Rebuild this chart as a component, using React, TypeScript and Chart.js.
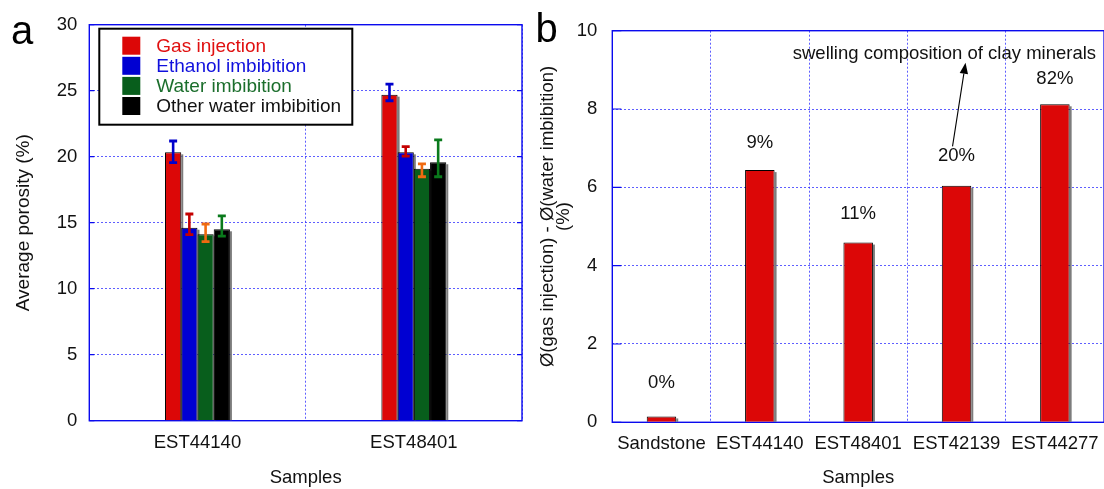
import React, { useEffect, useRef } from 'react';
import { Chart, registerables } from 'chart.js';

Chart.register(...registerables);

const FONT = '"Liberation Sans", Arial, Helvetica, sans-serif';
const TEXT = '#111111';
const GRID = 'rgba(40,40,255,0.75)';
const FRAME = '#0a0aee';

// ---------- Panel a ----------
const samplesA = ['EST44140', 'EST48401'];
const seriesNames = ['Gas injection', 'Ethanol imbibition', 'Water imbibition', 'Other water imbibition'];
const gasInjection = [20.33, 24.7];
const ethanolImbibition = [14.62, 20.33];
const waterImbibition = [14.12, 19.09];
const otherWaterImbibition = [14.5, 19.58];
const gasErrLow = [19.55, 24.24];
const gasErrHigh = [21.19, 25.5];
const ethanolErrLow = [14.09, 20.05];
const ethanolErrHigh = [15.66, 20.76];
const waterErrLow = [13.56, 18.48];
const waterErrHigh = [14.9, 19.45];
const otherErrLow = [13.99, 18.48];
const otherErrHigh = [15.51, 21.27];
const yTicksA = [0, 5, 10, 15, 20, 25, 30];
const seriesColors = ['#dc0707', '#0000d2', '#085e1c', '#000000'];
const legendTextColors = ['#e01010', '#1010dd', '#1b6e2c', '#111111'];
const errColors = ['#0000cc', '#c40000', '#f06a10', '#0a7a1c'];

// ---------- Panel b ----------
const samplesB = ['Sandstone', 'EST44140', 'EST48401', 'EST42139', 'EST44277'];
const porosityDiff = [0.15, 6.44, 4.59, 6.04, 8.12];
const swellingLabels = ['0%', '9%', '11%', '20%', '82%'];
const swellingLabelLevels = [1.0, 7.14, 5.33, 6.79, 8.76];
const yTicksB = [0, 2, 4, 6, 8, 10];
const annotationText = 'swelling composition of clay minerals';
const annotationTextValue = 9.42;
const annotationTipValue = 9.18;
const annotationCategory = 3;
const yTitleB = ['\u00D8(gas injection) - \u00D8(water imbibition)', '(%)'];

const font = (size: number, extra: any = {}) => ({ family: FONT, size, ...extra });

const framePlugin = (tickLen: number, rightTicks: boolean) => ({
  id: 'frame',
  beforeDatasetsDraw(chart: any) {
    const { ctx, chartArea: a, scales } = chart;
    ctx.save();
    ctx.strokeStyle = FRAME;
    ctx.lineWidth = 1.4;
    ctx.strokeRect(a.left, a.top, a.right - a.left, a.bottom - a.top);
    ctx.lineWidth = 1.2;
    ctx.beginPath();
    scales.y.ticks.forEach((t: any) => {
      const yy = scales.y.getPixelForValue(t.value);
      ctx.moveTo(a.left, yy);
      ctx.lineTo(a.left + tickLen, yy);
      if (rightTicks) {
        ctx.moveTo(a.right, yy);
        ctx.lineTo(a.right - tickLen, yy);
      }
    });
    ctx.stroke();
    ctx.restore();
  },
});

const shadowPlugin = {
  id: 'barShadow',
  beforeDatasetsDraw(chart: any) {
    const { ctx } = chart;
    ctx.save();
    ctx.fillStyle = 'rgba(110,110,110,0.9)';
    chart.data.datasets.forEach((_: any, di: number) => {
      chart.getDatasetMeta(di).data.forEach((bar: any) => {
        const h = bar.base - bar.y;
        if (h > 3) ctx.fillRect(bar.x + bar.width / 2, bar.y + 2, 2, h - 2);
      });
    });
    ctx.restore();
  },
};

const errorBarPlugin = {
  id: 'errorBars',
  afterDatasetsDraw(chart: any) {
    const { ctx, scales } = chart;
    chart.data.datasets.forEach((ds: any, di: number) => {
      if (!ds.errLow) return;
      chart.getDatasetMeta(di).data.forEach((bar: any, i: number) => {
        const x = bar.x;
        const yl = scales.y.getPixelForValue(ds.errLow[i]);
        const yh = scales.y.getPixelForValue(ds.errHigh[i]);
        ctx.save();
        ctx.strokeStyle = ds.errColor;
        ctx.lineWidth = 2.6;
        ctx.beginPath();
        ctx.moveTo(x, yl);
        ctx.lineTo(x, yh);
        ctx.stroke();
        ctx.lineWidth = 2.8;
        ctx.beginPath();
        ctx.moveTo(x - 4, yl);
        ctx.lineTo(x + 4, yl);
        ctx.moveTo(x - 4, yh);
        ctx.lineTo(x + 4, yh);
        ctx.stroke();
        ctx.restore();
      });
    });
  },
};

const legendPlugin = {
  id: 'boxLegend',
  afterDraw(chart: any) {
    const { ctx, chartArea: a } = chart;
    const left = a.left + 10;
    const top = a.top + 4;
    const w = 253;
    const h = 96;
    ctx.save();
    ctx.fillStyle = '#ffffff';
    ctx.fillRect(left, top, w, h);
    ctx.strokeStyle = '#000';
    ctx.lineWidth = 2;
    ctx.strokeRect(left, top, w, h);
    ctx.font = `19px ${FONT}`;
    ctx.textBaseline = 'middle';
    ctx.textAlign = 'left';
    chart.data.datasets.forEach((ds: any, i: number) => {
      const rowTop = top + 8 + i * 20.1;
      ctx.fillStyle = ds.backgroundColor;
      ctx.fillRect(left + 23, rowTop, 18, 18);
      ctx.fillStyle = legendTextColors[i];
      ctx.fillText(ds.label, left + 57, rowTop + 10);
    });
    ctx.restore();
  },
};

const letterPlugin = (letter: string, x: number, y: number) => ({
  id: 'panelLetter',
  afterDraw(chart: any) {
    const { ctx } = chart;
    ctx.save();
    ctx.font = `40px ${FONT}`;
    ctx.fillStyle = '#000';
    ctx.textAlign = 'left';
    ctx.textBaseline = 'alphabetic';
    ctx.fillText(letter, x, y);
    ctx.restore();
  },
});

const panelBTextPlugin = {
  id: 'panelBText',
  afterDraw(chart: any) {
    const { ctx, chartArea: a, scales } = chart;
    const meta = chart.getDatasetMeta(0);
    ctx.save();
    ctx.fillStyle = TEXT;
    ctx.font = `18.5px ${FONT}`;
    ctx.textAlign = 'center';
    ctx.textBaseline = 'middle';
    meta.data.forEach((bar: any, i: number) => {
      ctx.fillText(swellingLabels[i], bar.x, scales.y.getPixelForValue(swellingLabelLevels[i]));
    });
    // annotation text
    ctx.textAlign = 'right';
    ctx.fillText(annotationText, a.right - 8, scales.y.getPixelForValue(annotationTextValue));
    // arrow
    const bar = meta.data[annotationCategory];
    const tx = bar.x - 4;
    const ty = scales.y.getPixelForValue(swellingLabelLevels[annotationCategory]) - 10;
    const hx = bar.x + 9;
    const hy = scales.y.getPixelForValue(annotationTipValue);
    const ang = Math.atan2(hy - ty, hx - tx);
    const hl = 11;
    const hw = 4.2;
    const bx = hx - hl * Math.cos(ang);
    const by = hy - hl * Math.sin(ang);
    ctx.strokeStyle = '#000';
    ctx.lineWidth = 1.1;
    ctx.beginPath();
    ctx.moveTo(tx, ty);
    ctx.lineTo(bx, by);
    ctx.stroke();
    ctx.fillStyle = '#000';
    ctx.beginPath();
    ctx.moveTo(hx, hy);
    ctx.lineTo(bx + hw * Math.sin(ang), by - hw * Math.cos(ang));
    ctx.lineTo(bx - hw * Math.sin(ang), by + hw * Math.cos(ang));
    ctx.closePath();
    ctx.fill();
    // y title (two lines, rotated)
    ctx.save();
    ctx.translate(19.5, 216.5);
    ctx.rotate(-Math.PI / 2);
    ctx.textAlign = 'center';
    ctx.textBaseline = 'middle';
    ctx.fillStyle = TEXT;
    ctx.fillText(yTitleB[0], 0, 0);
    ctx.fillText(yTitleB[1], 0, 16.5);
    ctx.restore();
    ctx.restore();
  },
};

export default function App() {
  const refA = useRef<HTMLCanvasElement | null>(null);
  const refB = useRef<HTMLCanvasElement | null>(null);

  useEffect(() => {
    const values = [gasInjection, ethanolImbibition, waterImbibition, otherWaterImbibition];
    const lows = [gasErrLow, ethanolErrLow, waterErrLow, otherErrLow];
    const highs = [gasErrHigh, ethanolErrHigh, waterErrHigh, otherErrHigh];

    const gridOpts = { color: GRID, lineWidth: 1, drawTicks: false };
    const borderOpts = { display: false, dash: [2, 2] };

    const chartA = new Chart(refA.current as HTMLCanvasElement, {
      type: 'bar',
      data: {
        labels: samplesA,
        datasets: seriesNames.map((name, i) => ({
          label: name,
          data: values[i],
          backgroundColor: seriesColors[i],
          borderColor: '#000',
          borderWidth: 1,
          errLow: lows[i],
          errHigh: highs[i],
          errColor: errColors[i],
        })) as any,
      },
      options: {
        responsive: false,
        animation: false,
        devicePixelRatio: 1,
        layout: { padding: { left: 0, top: 24.7, right: 18, bottom: 0 } },
        datasets: { bar: { categoryPercentage: 0.3, barPercentage: 1 } },
        plugins: { legend: { display: false }, tooltip: { enabled: false } },
        scales: {
          x: {
            grid: { ...gridOpts, offset: true },
            border: borderOpts,
            ticks: { font: font(18.5), color: TEXT, padding: 11 },
            title: { display: true, text: 'Samples', font: font(18.5), color: TEXT, padding: { top: 0, bottom: 0 } },
            afterFit: (s: any) => { s.height = 68.3; },
          },
          y: {
            min: 0,
            max: 30,
            grid: gridOpts,
            border: borderOpts,
            afterBuildTicks: (s: any) => { s.ticks = yTicksA.map((v) => ({ value: v })); },
            ticks: { font: font(18.5), color: TEXT, padding: 12 },
            title: { display: true, text: 'Average porosity (%)', font: font(19), color: TEXT, padding: { top: 12, bottom: 0 } },
            afterFit: (s: any) => { s.width = 89.3; },
          },
        },
      } as any,
      plugins: [framePlugin(5, true), shadowPlugin, errorBarPlugin, legendPlugin, letterPlugin('a', 11, 44)],
    });

    const chartB = new Chart(refB.current as HTMLCanvasElement, {
      type: 'bar',
      data: {
        labels: samplesB,
        datasets: [
          {
            label: 'porosity difference',
            data: porosityDiff,
            backgroundColor: seriesColors[0],
            borderColor: '#000',
            borderWidth: 1,
          },
        ],
      },
      options: {
        responsive: false,
        animation: false,
        devicePixelRatio: 1,
        layout: { padding: { left: 0, top: 30.7, right: 4, bottom: 0 } },
        datasets: { bar: { categoryPercentage: 1, barPercentage: 0.3 } },
        plugins: { legend: { display: false }, tooltip: { enabled: false } },
        scales: {
          x: {
            grid: { ...gridOpts, offset: true },
            border: borderOpts,
            ticks: { font: font(18.5), color: TEXT, padding: 11, maxRotation: 0, autoSkip: false },
            title: { display: true, text: 'Samples', font: font(18.5), color: TEXT, padding: { top: 0, bottom: 0 } },
            afterFit: (s: any) => { s.height = 66.7; },
          },
          y: {
            min: 0,
            max: 10,
            grid: gridOpts,
            border: borderOpts,
            afterBuildTicks: (s: any) => { s.ticks = yTicksB.map((v) => ({ value: v })); },
            ticks: { font: font(18.5), color: TEXT, padding: 15 },
            afterFit: (s: any) => { s.width = 84.3; },
          },
        },
      } as any,
      plugins: [framePlugin(9, false), shadowPlugin, panelBTextPlugin, letterPlugin('b', 7.5, 42)],
    });

    return () => {
      chartA.destroy();
      chartB.destroy();
    };
  }, []);

  return (
    <div style={{ position: 'fixed', left: 0, top: 0, width: 1104, height: 489, overflow: 'hidden', background: '#fff' }}>
      <canvas ref={refA} width={540} height={489} style={{ position: 'absolute', left: 0, top: 0, width: 540, height: 489 }} />
      <canvas ref={refB} width={582} height={489} style={{ position: 'absolute', left: 528, top: 0, width: 582, height: 489 }} />
    </div>
  );
}
